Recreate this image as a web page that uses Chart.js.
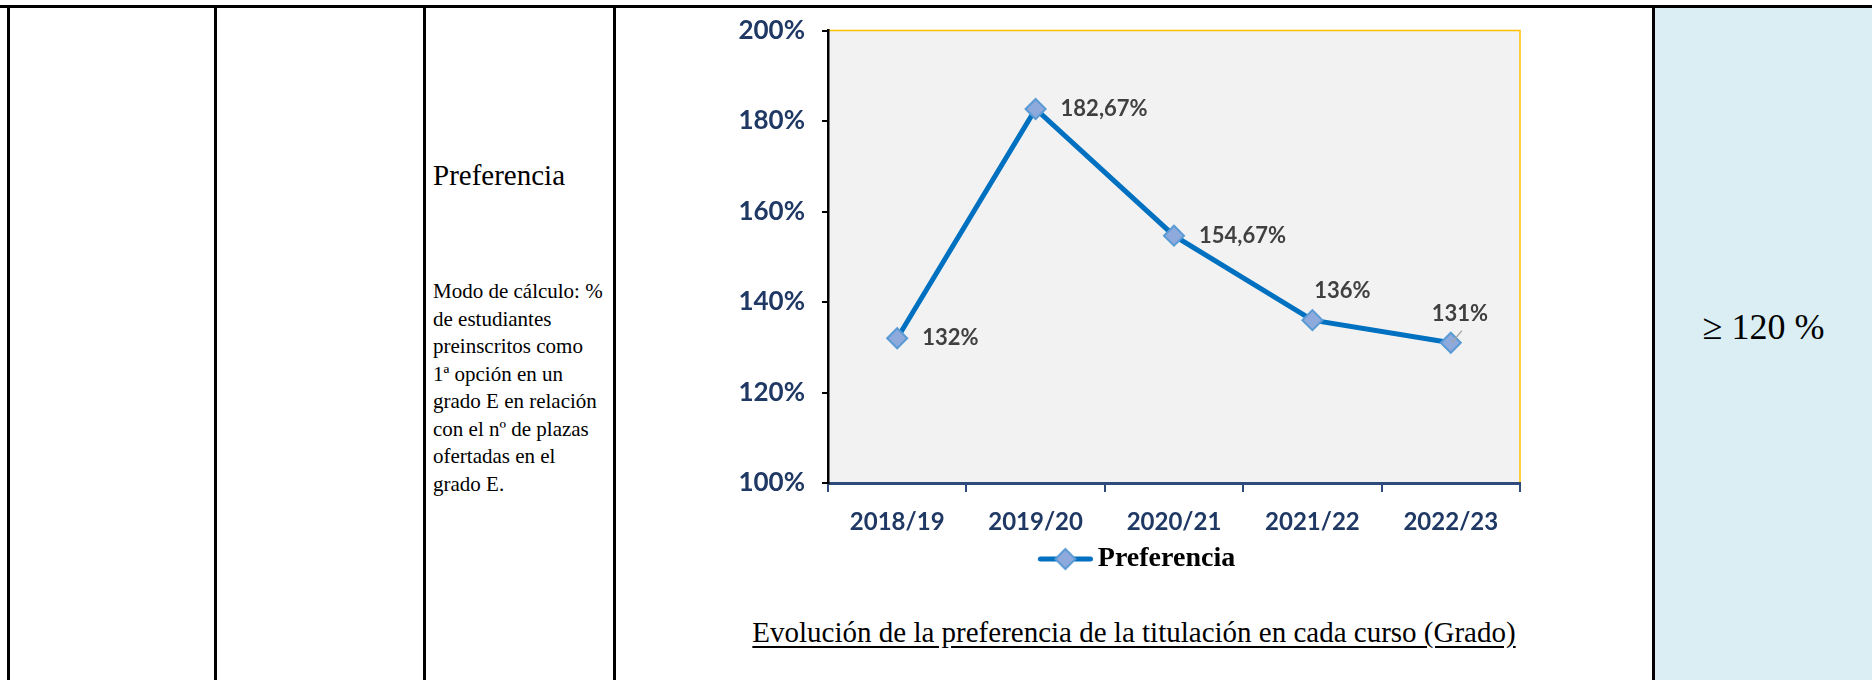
<!DOCTYPE html>
<html lang="es">
<head>
<meta charset="utf-8">
<title>Preferencia</title>
<script src="https://cdn.jsdelivr.net/npm/chart.js@4.4.1/dist/chart.umd.min.js"></script>
<style>
  html, body { margin: 0; padding: 0; background: #fff; }
  body { width: 1872px; height: 680px; position: relative; overflow: hidden; font-family: "Liberation Serif", serif; color: #000; }
  .hline { position: absolute; left: 0; top: 5px; width: 1872px; height: 3px; background: #000; }
  .vline { position: absolute; top: 5px; width: 3px; height: 675px; background: #000; }
  .meta { position: absolute; left: 1655px; top: 8px; width: 217px; height: 672px; background: #DAEEF3; }
  .meta span { position: absolute; left: 0; width: 100%; top: 300px; text-align: center; font-size: 36px; line-height: 1.107; }
  .nombre { position: absolute; left: 433px; top: 159px; font-size: 29px; line-height: 1.107; }
  .calculo { position: absolute; left: 433px; top: 278px; width: 180px; font-size: 21px; line-height: 27.5px; white-space: nowrap; }
  .titulo { position: absolute; left: 616px; width: 1036px; top: 616px; text-align: center; font-size: 29px; line-height: 1.107; text-decoration: underline; text-underline-offset: 4px; }
  #chartBox { position: absolute; left: 732px; top: -2px; }
  #chartBox canvas { display: block; }
</style>
</head>
<body>
<div class="hline"></div>
<div class="vline" style="left:7px"></div>
<div class="vline" style="left:214px"></div>
<div class="vline" style="left:423px"></div>
<div class="vline" style="left:613px"></div>
<div class="meta"><span>≥ 120 %</span></div>
<div class="vline" style="left:1652px"></div>

<div class="nombre">Preferencia</div>
<div class="calculo">Modo de cálculo: %<br>de estudiantes<br>preinscritos como<br>1ª opción en un<br>grado E en relación<br>con el nº de plazas<br>ofertadas en el<br>grado E.</div>

<div id="chartBox"><canvas id="prefChart" width="900" height="610"></canvas></div>
<div class="titulo">Evolución de la preferencia de la titulación en cada curso (Grado)</div>

<script>
// Datos del gráfico
const cursos = ['2018/19', '2019/20', '2020/21', '2021/22', '2022/23'];
const preferencia = [132, 182.67, 154.67, 136, 131];
const ejeMin = 100;
const ejeMax = 200;
const ejePaso = 20;

// Colores
const azulLinea = '#0070C0';
const azulMarca = '#8EA9DB';
const bordeMarca = '#5B9BD5';
const azulTexto = '#1F3864';

// Desplazamiento de cada etiqueta respecto a su punto (dx, dy, alineación)
const etiquetaDesp = [[25, 0, 'left'], [25, 0, 'left'], [25, 0, 'left'], [30, -29, 'center'], [9, -29, 'center']];

// Icono de la leyenda: línea con rombo (margen transparente a la izquierda)
function crearIconoLeyenda() {
    const c = document.createElement('canvas');
    c.width = 85;
    c.height = 26;
    const g = c.getContext('2d');
    g.strokeStyle = azulLinea;
    g.lineWidth = 5;
    g.lineCap = 'round';
    g.beginPath();
    g.moveTo(32.5, 13);
    g.lineTo(82.5, 13);
    g.stroke();
    g.fillStyle = azulMarca;
    g.strokeStyle = bordeMarca;
    g.lineWidth = 2;
    g.beginPath();
    g.moveTo(57.5, 3);
    g.lineTo(67.5, 13);
    g.lineTo(57.5, 23);
    g.lineTo(47.5, 13);
    g.closePath();
    g.fill();
    g.stroke();
    return c;
}

// Fondo gris y marco dorado del área de trazado
const marcoPlot = {
    id: 'marcoPlot',
    beforeDraw(chart) {
        const { ctx, chartArea: a } = chart;
        ctx.save();
        ctx.fillStyle = '#F2F2F2';
        ctx.fillRect(a.left, a.top, a.width, a.height);
        ctx.strokeStyle = '#FFC000';
        ctx.lineWidth = 1.5;
        ctx.beginPath();
        ctx.moveTo(a.left, a.top);
        ctx.lineTo(a.right, a.top);
        ctx.lineTo(a.right, a.bottom);
        ctx.stroke();
        ctx.restore();
    }
};

// Etiquetas de datos
const etiquetas = {
    id: 'etiquetas',
    afterDatasetsDraw(chart) {
        const { ctx } = chart;
        const meta = chart.getDatasetMeta(0);
        ctx.save();
        ctx.font = 'bold 22px Lato, sans-serif';
        ctx.fillStyle = '#404040';
        ctx.textBaseline = 'middle';
        meta.data.forEach((pt, i) => {
            const [dx, dy, align] = etiquetaDesp[i];
            const texto = String(preferencia[i]).replace('.', ',') + '%';
            if (i === preferencia.length - 1) {
                // línea guía
                ctx.strokeStyle = '#A6A6A6';
                ctx.lineWidth = 1.2;
                ctx.beginPath();
                ctx.moveTo(pt.x + 1, pt.y);
                ctx.lineTo(pt.x + 11, pt.y - 12);
                ctx.stroke();
            }
            ctx.textAlign = align;
            ctx.fillText(texto, pt.x + dx, pt.y + dy);
        });
        ctx.restore();
    }
};

new Chart(document.getElementById('prefChart'), {
    type: 'line',
    data: {
        labels: cursos,
        datasets: [{
            label: 'Preferencia',
            data: preferencia,
            borderColor: azulLinea,
            borderWidth: 5,
            tension: 0,
            pointStyle: 'rectRot',
            pointRadius: 10,
            pointBorderWidth: 2,
            pointBackgroundColor: azulMarca,
            pointBorderColor: bordeMarca
        }]
    },
    options: {
        responsive: false,
        animation: false,
        layout: { padding: { left: 0, right: 112, top: 15, bottom: 25 } },
        plugins: {
            tooltip: { enabled: false },
            legend: {
                position: 'bottom',
                labels: {
                    usePointStyle: true,
                    pointStyle: crearIconoLeyenda(),
                    pointStyleWidth: 67,
                    padding: 10,
                    color: '#000',
                    font: { family: '"Liberation Serif", serif', size: 28, weight: 'bold' }
                }
            }
        },
        scales: {
            x: {
                offset: true,
                afterFit(scale) { scale.height = 52; },
                grid: { offset: true, drawOnChartArea: false, tickLength: 9, color: '#2F4B7C', lineWidth: 2 },
                border: { color: '#2F4B7C', width: 3 },
                ticks: { color: azulTexto, padding: 16, font: { family: 'Lato, sans-serif', size: 24, weight: 'bold' } }
            },
            y: {
                min: ejeMin,
                max: ejeMax,
                afterFit(scale) { scale.width = 96; },
                grid: { drawOnChartArea: false, tickLength: 6, color: '#000', lineWidth: 2 },
                border: { color: '#000', width: 2.5 },
                ticks: {
                    stepSize: ejePaso,
                    padding: 17,
                    color: azulTexto,
                    font: { family: 'Lato, sans-serif', size: 26, weight: 'bold' },
                    callback: v => v + '%'
                }
            }
        }
    },
    plugins: [marcoPlot, etiquetas]
});
</script>
</body>
</html>
